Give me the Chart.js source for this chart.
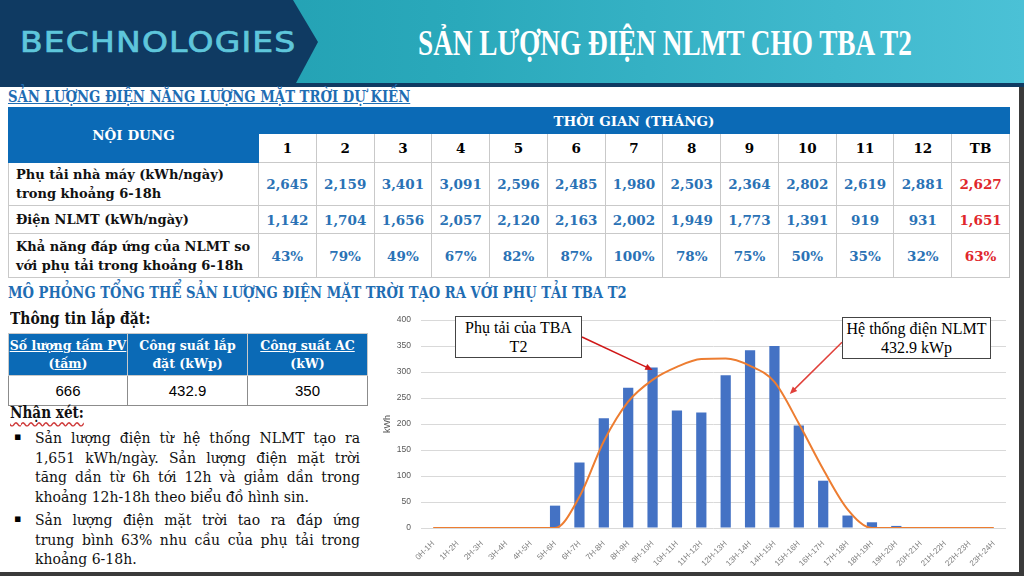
<!DOCTYPE html>
<html>
<head>
<meta charset="utf-8">
<script src="https://cdn.jsdelivr.net/npm/chart.js@4.4.1/dist/chart.umd.min.js"></script>
<style>
body { margin: 0; width: 1024px; height: 576px; overflow: hidden; background: #fff; position: relative; font-family: "DejaVu Serif", serif; }
.abs { position: absolute; }
.fit { display: inline-block; white-space: nowrap; transform-origin: left center; }
.sec { color: #1f6db3; font-weight: bold; font-size: 16px; }
table { border-collapse: collapse; table-layout: fixed; }
#tbl td { border: 1px solid #c9c9c9; text-align: center; font-weight: bold; font-size: 13.5px; padding: 0; }
#tbl td.lbl { text-align: left; padding-left: 7px; line-height: 19px; font-size: 13px; color: #111; white-space: nowrap; }
#tbl .hd { background: #0b6ab6; color: #fff; border-color: #0b6ab6; font-size: 13.5px; }
#tbl .num { color: #2a72b5; }
#tbl .avg { color: #e0262b; }
#info td { border: 1px solid #8c8c8c; text-align: center; padding: 0; }
#info .hd { background: #0b6ab6; color: #fff; font-weight: bold; font-size: 12.5px; line-height: 18px; border-color: #c9c9c9; }
#info .val { font-family: "Liberation Sans", sans-serif; font-size: 15px; }
.bl { position: absolute; left: 35px; width: 325px; font-size: 14px; white-space: nowrap; text-align: justify; text-align-last: justify; line-height: 20px; color: #111; }
.bl.last { text-align-last: left; }
.bul { position: absolute; left: 14px; font-size: 11px; }
.note { position: absolute; background: #fff; border: 1px solid #444; font-family: "Liberation Serif", serif; font-size: 16px; text-align: center; line-height: 19px; box-sizing: border-box; padding-top: 1px; }
</style>
</head>
<body>
<!-- header -->
<div class="abs" style="left:0;top:0;width:1024px;height:83px;background:linear-gradient(90deg,#1b98aa 0%,#2aa9bb 45%,#4bc1d6 100%)"></div>
<svg class="abs" style="left:0;top:0" width="330" height="84"><polygon points="0,0 293,0 318,42 296,83 0,83" fill="#0f3a62"/></svg>
<div class="abs" style="left:0;top:83px;width:1024px;height:4px;background:#0f3a62"></div>
<div class="abs" style="left:20px;top:26px"><span id="brand" class="fit" style="font-family:'DejaVu Sans',sans-serif;font-size:28px;color:#5ec6db;letter-spacing:1px;-webkit-text-stroke:0.7px #5ec6db">BECHNOLOGIES</span></div>
<div class="abs" style="left:418px;top:24px"><span id="ttl" class="fit" style="font-family:'Liberation Serif',serif;font-weight:bold;font-size:35px;color:#fff">SẢN LƯỢNG ĐIỆN NLMT CHO TBA T2</span></div>

<!-- frame -->
<div class="abs" style="left:1019px;top:87px;width:5px;height:489px;background:#3a3a3a"></div>
<div class="abs" style="left:0;top:572px;width:1024px;height:4px;background:#3a3a3a"></div>

<div class="abs" style="left:8px;top:87px"><span id="sec1" class="fit sec" style="text-decoration:underline">SẢN LƯỢNG ĐIỆN NĂNG LƯỢNG MẶT TRỜI DỰ KIẾN</span></div>
<table id="tbl" class="abs" style="left:8px;top:107px;width:1002px"></table>

<div class="abs" style="left:8px;top:283px"><span id="sec2" class="fit sec">MÔ PHỎNG TỔNG THỂ SẢN LƯỢNG ĐIỆN MẶT TRỜI TẠO RA VỚI PHỤ TẢI TBA T2</span></div>
<div class="abs" style="left:10px;top:309px"><span id="info-t" class="fit" style="font-weight:bold;font-size:16px;color:#111">Thông tin lắp đặt:</span></div>
<table id="info" class="abs" style="left:8px;top:333px;width:359px"></table>

<div class="abs" style="left:10px;top:403px"><span id="rem-t" class="fit" style="font-weight:bold;font-size:16px;color:#111;text-decoration:underline wavy #d04040;text-underline-offset:3px">Nhận xét:</span></div>
<div class="bul" style="top:430px">▪</div>
<div class="bl" style="top:428px">Sản lượng điện từ hệ thống NLMT tạo ra</div>
<div class="bl" style="top:448px">1,651 kWh/ngày. Sản lượng điện mặt trời</div>
<div class="bl" style="top:467px">tăng dần từ 6h tới 12h và giảm dần trong</div>
<div class="bl last" style="top:487px">khoảng 12h-18h theo biểu đồ hình sin.</div>
<div class="bul" style="top:512px">▪</div>
<div class="bl" style="top:510px">Sản lượng điện mặt trời tao ra đáp ứng</div>
<div class="bl" style="top:530px">trung bình 63% nhu cầu của phụ tải trong</div>
<div class="bl last" style="top:549px">khoảng 6-18h.</div>

<!-- chart -->
<div id="wrap" class="abs" style="left:372px;top:305px;width:645px;height:266px">
  <canvas id="hourChart" width="645" height="266"></canvas>
</div>
<div id="note1" class="note" style="left:455px;top:316px;width:127px;height:42px">Phụ tải của TBA<br>T2</div>
<div id="note2" class="note" style="left:842px;top:317px;width:149px;height:42px">Hệ thống điện NLMT<br>432.9 kWp</div>

<script>
// monthly table
const monthLabels = ['1', '2', '3', '4', '5', '6', '7', '8', '9', '10', '11', '12', 'TB']
const loadPerDay = [2645, 2159, 3401, 3091, 2596, 2485, 1980, 2503, 2364, 2802, 2619, 2881, 2627]
const solarPerDay = [1142, 1704, 1656, 2057, 2120, 2163, 2002, 1949, 1773, 1391, 919, 931, 1651]
const coverPercent = [43, 79, 49, 67, 82, 87, 100, 78, 75, 50, 35, 32, 63]

// install info
const infoHeaders = ['<u>Số lượng tấm PV</u><br>(<u>tấm</u>)', 'Công suất lắp<br>đặt (kWp)', '<u>Công suất AC</u><br>(kW)']
const infoValues = ['666', '432.9', '350']

// hourly chart
const hourLabels = ['0H-1H', '1H-2H', '2H-3H', '3H-4H', '4H-5H', '5H-6H', '6H-7H', '7H-8H', '8H-9H', '9H-10H',
    '10H-11H', '11H-12H', '12H-13H', '13H-14H', '14H-15H', '15H-16H', '16H-17H', '17H-18H', '18H-19H',
    '19H-20H', '20H-21H', '21H-22H', '22H-23H', '23H-24H']
const loadByHour = [0, 0, 0, 0, 0, 43, 126, 211, 270, 309, 226, 222, 294, 342, 350, 197, 91, 24, 11, 4, 0, 0, 0, 0]
const solarByHour = [0, 0, 0, 0, 0, 0, 60, 167, 243, 285, 310, 325, 326, 312, 281, 201, 113, 36, 0, 0, 0, 0, 0, 0]

const fmt = n => n.toLocaleString('en-US')

// build monthly table
let html = '<colgroup><col style="width:250px">' + monthLabels.map(() => '<col>').join('') + '</colgroup>'
html += '<tr style="height:26px"><td class="hd" rowspan="2">NỘI DUNG</td><td class="hd" colspan="13">THỜI GIAN (THÁNG)</td></tr>'
html += '<tr style="height:29px">' + monthLabels.map(m => '<td>' + m + '</td>').join('') + '</tr>'
const rows = [
    ['Phụ tải nhà máy (kWh/ngày)<br>trong khoảng 6-18h', loadPerDay.map(fmt), 43],
    ['Điện NLMT (kWh/ngày)', solarPerDay.map(fmt), 28],
    ['Khả năng đáp ứng của NLMT so<br>với phụ tải trong khoảng 6-18h', coverPercent.map(v => v + '%'), 44]
]
rows.forEach(r => {
    html += '<tr style="height:' + r[2] + 'px"><td class="lbl">' + r[0] + '</td>'
    html += r[1].map((v, i) => '<td class="' + (i === 12 ? 'avg' : 'num') + '">' + v + '</td>').join('') + '</tr>'
})
document.getElementById('tbl').innerHTML = html

document.getElementById('info').innerHTML =
    '<colgroup><col style="width:119px"><col style="width:120px"><col style="width:120px"></colgroup>' +
    '<tr style="height:42px">' + infoHeaders.map(h => '<td class="hd">' + h + '</td>').join('') + '</tr>' +
    '<tr style="height:30px">' + infoValues.map(v => '<td class="val">' + v + '</td>').join('') + '</tr>'

// squeeze some titles to their width on the slide
function fit(id, w) {
    const el = document.getElementById(id)
    el.style.transform = 'scaleX(' + (w / el.offsetWidth) + ')'
}
fit('brand', 277)
fit('ttl', 494)
fit('sec1', 402)
fit('sec2', 619)
fit('info-t', 140)
fit('rem-t', 74)

// arrows from the text boxes to the chart
const notes = [
    { box: 'note1', side: 'right', at: 0.5, target: 9, value: 304, color: '#d01818' },
    { box: 'note2', side: 'left', at: 0.6, target: 14.63, value: 258, color: '#e0403a' }
]

const arrowPlugin = {
    id: 'noteArrows',
    afterDatasetsDraw(chart) {
        const ctx = chart.ctx
        const x = chart.scales.x
        const y = chart.scales.y
        const wrap = document.getElementById('wrap')
        notes.forEach(n => {
            const b = document.getElementById(n.box)
            const sx = (n.side === 'right' ? b.offsetLeft + b.offsetWidth : b.offsetLeft) - wrap.offsetLeft
            const sy = b.offsetTop + b.offsetHeight * n.at - wrap.offsetTop
            const tx = x.getPixelForValue(n.target)
            const ty = y.getPixelForValue(n.value)
            const ang = Math.atan2(ty - sy, tx - sx)
            ctx.save()
            ctx.strokeStyle = n.color
            ctx.fillStyle = n.color
            ctx.lineWidth = 1.5
            ctx.beginPath()
            ctx.moveTo(sx, sy)
            ctx.lineTo(tx - 5 * Math.cos(ang), ty - 5 * Math.sin(ang))
            ctx.stroke()
            ctx.beginPath()
            ctx.moveTo(tx, ty)
            ctx.lineTo(tx - 8 * Math.cos(ang - 0.4), ty - 8 * Math.sin(ang - 0.4))
            ctx.lineTo(tx - 8 * Math.cos(ang + 0.4), ty - 8 * Math.sin(ang + 0.4))
            ctx.closePath()
            ctx.fill()
            ctx.restore()
        })
    }
}

Chart.defaults.font.family = "'Liberation Sans', sans-serif"

const hourData = {
    labels: hourLabels,
    datasets: [{
        type: 'line',
        label: 'Hệ thống điện NLMT',
        data: solarByHour,
        borderColor: '#ed7d31',
        borderWidth: 2,
        pointRadius: 0,
        cubicInterpolationMode: 'monotone',
        order: 0
    }, {
        type: 'bar',
        label: 'Phụ tải của TBA T2',
        data: loadByHour,
        backgroundColor: '#4472c4',
        barPercentage: 0.42,
        categoryPercentage: 1,
        order: 1
    }]
}

const hourConfig = {
    type: 'bar',
    data: hourData,
    options: {
        responsive: false,
        animation: false,
        layout: { padding: { top: 13, right: 11 } },
        plugins: {
            legend: { display: false },
            tooltip: { enabled: false }
        },
        scales: {
            x: {
                grid: { display: false },
                border: { display: false },
                ticks: { color: '#7f7f7f', font: { size: 8 }, minRotation: 45, maxRotation: 45, autoSkip: false, padding: 3 },
                afterFit: s => { s.height = 43 }
            },
            y: {
                min: 0,
                max: 400,
                ticks: { stepSize: 50, color: '#595959', font: { size: 8.5 }, padding: 10 },
                grid: { color: '#d9d9d9', drawTicks: false },
                border: { display: false },
                title: { display: true, text: 'kWh', color: '#595959', font: { size: 9 }, padding: { top: 10, bottom: 0 } },
                afterFit: s => { s.width = 49 }
            }
        }
    },
    plugins: [arrowPlugin]
}

const hourChart = new Chart(
    document.getElementById('hourChart'),
    hourConfig
)
</script>
</body>
</html>
